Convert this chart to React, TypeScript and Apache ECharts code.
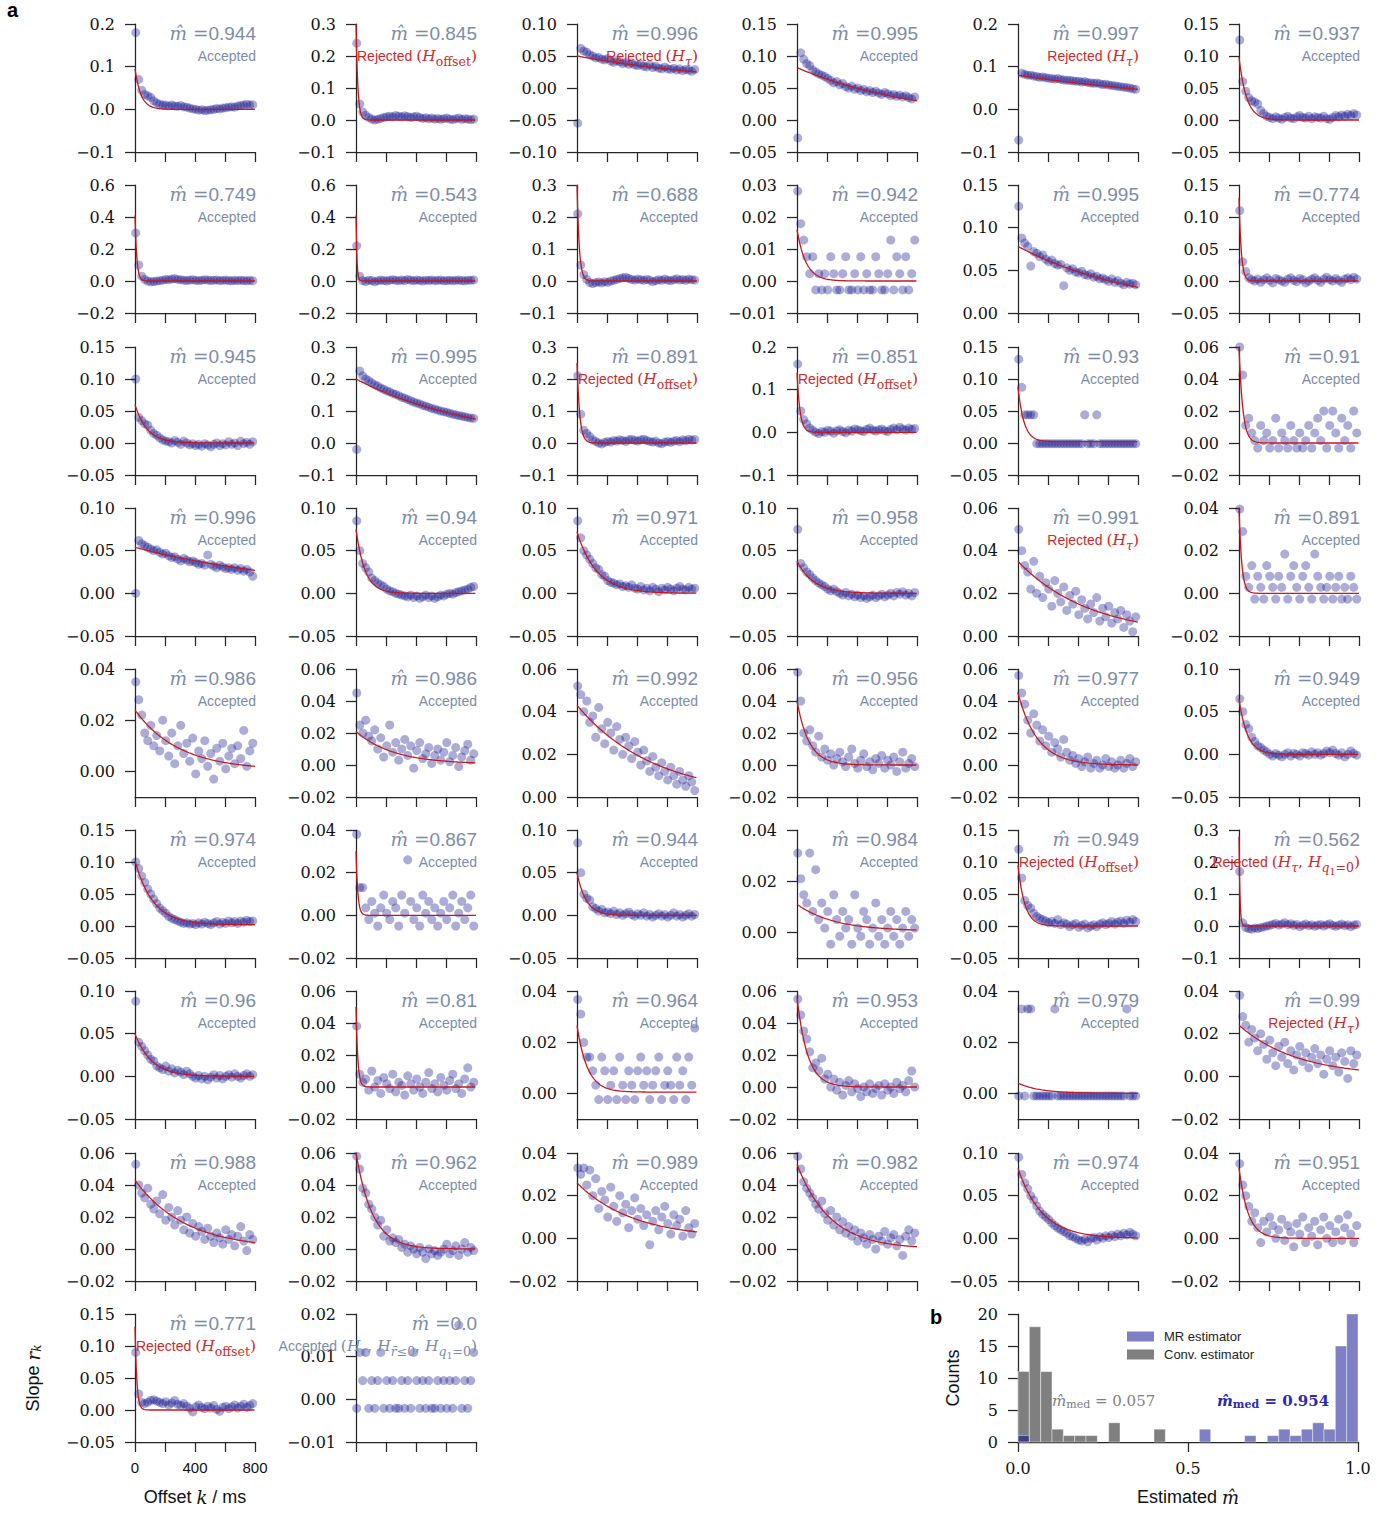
import React, { useEffect, useRef } from 'react';
import * as echarts from 'echarts';

const SERIF = '"DejaVu Serif", serif';
const SANS = '"Liberation Sans", Arial, sans-serif';
const MCOL = '#7d8ca6';
const RED = '#cc2b2b';
const PT = 'rgba(8,8,135,0.42)';
const AX = '#262626';

// sampling offsets k (ms)
const offsetsMs = [5, 25, 45, 65, 85, 105, 125, 145, 165, 185, 205, 225, 245, 265, 285, 305, 325, 345, 365, 385,
  405, 425, 445, 465, 485, 505, 525, 545, 565, 585, 605, 625, 645, 665, 685, 705, 725, 745, 765, 785];

const mHat = ['0.944', '0.845', '0.996', '0.995', '0.997', '0.937',
  '0.749', '0.543', '0.688', '0.942', '0.995', '0.774',
  '0.945', '0.995', '0.891', '0.851', '0.93', '0.91',
  '0.996', '0.94', '0.971', '0.958', '0.991', '0.891',
  '0.986', '0.986', '0.992', '0.956', '0.977', '0.949',
  '0.974', '0.867', '0.944', '0.984', '0.949', '0.562',
  '0.96', '0.81', '0.964', '0.953', '0.979', '0.99',
  '0.988', '0.962', '0.989', '0.982', '0.974', '0.951',
  '0.771', '0.0'];

const verdict = ['A', 'Ro', 'Rt', 'A', 'Rt', 'A',
  'A', 'A', 'A', 'A', 'A', 'A',
  'A', 'A', 'Ro', 'Ro', 'A', 'A',
  'A', 'A', 'A', 'A', 'Rt', 'A',
  'A', 'A', 'A', 'A', 'A', 'A',
  'A', 'A', 'A', 'A', 'Ro', 'Rtq',
  'A', 'A', 'A', 'A', 'A', 'Rt',
  'A', 'A', 'A', 'A', 'A', 'A',
  'Ro', 'Atrq'];

const yMin = [-0.1, -0.1, -0.1, -0.05, -0.1, -0.05,
  -0.2, -0.2, -0.1, -0.01, 0, -0.05,
  -0.05, -0.1, -0.1, -0.1, -0.05, -0.02,
  -0.05, -0.05, -0.05, -0.05, 0, -0.02,
  -0.01, -0.02, 0, -0.02, -0.02, -0.05,
  -0.05, -0.02, -0.05, -0.01, -0.05, -0.1,
  -0.05, -0.02, -0.01, -0.02, -0.01, -0.02,
  -0.02, -0.02, -0.02, -0.02, -0.05, -0.02,
  -0.05, -0.01];
const yMax = [0.2, 0.3, 0.1, 0.15, 0.2, 0.15,
  0.6, 0.6, 0.3, 0.03, 0.15, 0.15,
  0.15, 0.3, 0.3, 0.2, 0.15, 0.06,
  0.1, 0.1, 0.1, 0.1, 0.06, 0.04,
  0.04, 0.06, 0.06, 0.06, 0.06, 0.1,
  0.15, 0.04, 0.1, 0.04, 0.15, 0.3,
  0.1, 0.06, 0.04, 0.06, 0.04, 0.04,
  0.06, 0.06, 0.04, 0.06, 0.1, 0.04,
  0.15, 0.02];
const yStep = [0.1, 0.1, 0.05, 0.05, 0.1, 0.05,
  0.2, 0.2, 0.1, 0.01, 0.05, 0.05,
  0.05, 0.1, 0.1, 0.1, 0.05, 0.02,
  0.05, 0.05, 0.05, 0.05, 0.02, 0.02,
  0.02, 0.02, 0.02, 0.02, 0.02, 0.05,
  0.05, 0.02, 0.05, 0.02, 0.05, 0.1,
  0.05, 0.02, 0.02, 0.02, 0.02, 0.02,
  0.02, 0.02, 0.02, 0.02, 0.05, 0.02,
  0.05, 0.01];

// exponential fit r_k = A exp(-k/tau) + B
const fitAmp = [0.095, 0.30, 0.05, 0.082, 0.08, 0.098,
  0.41, 0.41, 0.30, 0.016, 0.078, 0.13,
  0.06, 0.2, 0.25, 0.14, 0.085, 0.06,
  0.054, 0.075, 0.072, 0.038, 0.035, 0.04,
  0.0235, 0.0205, 0.043, 0.04, 0.045, 0.065,
  0.1, 0.03, 0.05, 0.0105, 0.095, 0.28,
  0.05, 0.05, 0.026, 0.056, 0.004, 0.024,
  0.043, 0.06, 0.026, 0.053, 0.082, 0.033,
  0.13, null];
const fitTau = [40, 12, 1150, 800, 1500, 50,
  12, 6, 15, 60, 840, 15,
  80, 815, 18, 20, 40, 25,
  1150, 60, 130, 110, 476, 18,
  290, 250, 511, 80, 130, 55,
  120, 12, 60, 250, 45, 6,
  110, 12, 70, 70, 150, 385,
  337, 110, 371, 220, 160, 60,
  12, null];
const fitOff = [0, 0, 0, 0, 0, 0,
  0, 0, 0, 0, 0, 0,
  0, 0, 0, 0, 0.002, 0,
  0, 0, 0, 0, 0, 0,
  0.0005, 0.0005, 0, 0, 0, 0,
  0.002, 0, 0, 0.0005, 0, 0,
  0, 0, 0.0005, 0, 0, 0,
  0, 0, 0, 0, 0, 0,
  0, null];

// slopes r_k (in units of 1e-3), one list per panel
const slopesRow0 = [
  [180, 70, 45, 35, 32, 28, 20, 15, 12, 10, 10, 8, 10, 8, 7, 9, 6, 5, 3, 1, 0, -2, -1, -3, -2, -1, 0, 2, 1, 3, 4, 5, 6, 5, 8, 9, 10, 12, 10, 11],
  [240, 50, 25, 15, 8, 3, 0, 2, 5, 8, 10, 12, 10, 14, 12, 10, 13, 11, 8, 10, 12, 8, 5, 7, 4, 6, 3, 5, 2, 4, 6, 3, 1, 4, 6, 2, 4, 3, 1, 3],
  [-55, 62, 58, 56, 52, 50, 47, 48, 45, 44, 46, 42, 40, 43, 41, 38, 40, 37, 39, 36, 35, 37, 34, 33, 36, 32, 34, 31, 30, 33, 30, 29, 31, 28, 30, 27, 29, 28, 26, 29],
  [-28, 105, 95, 88, 85, 78, 75, 72, 70, 68, 65, 62, 58, 60, 55, 57, 52, 50, 53, 48, 50, 46, 48, 44, 46, 43, 45, 42, 40, 43, 41, 38, 40, 37, 39, 36, 38, 35, 33, 36],
  [-72, 85, 82, 80, 80, 78, 77, 75, 76, 74, 73, 72, 71, 72, 70, 69, 68, 68, 67, 66, 66, 64, 65, 63, 62, 61, 62, 60, 58, 59, 57, 56, 55, 54, 53, 52, 51, 50, 48, 47],
  [125, 60, 45, 35, 30, 28, 25, 15, 10, 6, 4, 2, 5, 3, 1, 4, 6, 3, 2, 5, 7, 4, 3, 6, 2, 5, 4, 3, 6, 2, 1, 4, 7, 5, 8, 6, 9, 7, 10, 8],
];
const slopesRow1 = [
  [300, 100, 30, 10, 0, -5, -3, 0, 2, 5, 10, 8, 12, 15, 10, 8, 5, 3, 6, 8, 4, 2, 5, 8, 6, 3, 5, 7, 2, 4, 6, 3, 1, 4, 2, 5, 3, 1, 4, 2],
  [220, 30, 2, -3, 5, 3, -5, 2, 6, 3, 0, 5, 8, 4, 2, 6, 3, 10, 5, 2, 6, 4, 0, 5, 3, 7, 2, 4, 6, 1, 3, 5, 2, 4, 6, 3, 1, 5, 4, 7],
  [210, 50, 20, 5, -5, -8, -5, -3, -6, -2, -4, 0, 2, 5, 8, 10, 12, 8, 5, 3, 6, 4, 2, 5, 3, -2, 1, 4, 2, 6, 3, 1, 4, 7, 3, 5, 2, 6, 4, 3],
  [28.1, 17.9, 12.8, 7.6, 2.3, 7.6, -2.8, 2.3, -2.8, 2.3, -2.8, 7.6, 2.3, -2.8, -2.8, 2.3, 7.6, -2.8, -2.8, 2.3, -2.8, 7.6, -2.8, 2.3, -2.8, -2.8, 7.6, 2.3, -2.8, -2.8, 2.3, 12.8, -2.8, 7.6, 2.3, -2.8, 7.6, -2.8, 2.3, 12.8],
  [125, 88, 82, 78, 55, 72, 70, 66, 68, 63, 60, 62, 58, 56, 57, 32, 53, 50, 52, 48, 47, 49, 45, 44, 46, 42, 43, 40, 41, 39, 37, 40, 36, 38, 35, 33, 36, 34, 35, 33],
  [110, 30, 15, 5, 2, 0, 3, -2, 2, 5, 1, -3, 4, 2, 0, -2, 3, 5, 1, -1, 4, 2, -3, 0, 3, 5, 1, -2, 3, 6, 2, 0, 4, 1, -2, 3, 5, 2, 6, 3],
];
const slopesRow2 = [
  [100, 40, 35, 30, 28, 20, 15, 12, 8, 5, 3, 2, 0, 4, 1, -2, 3, 0, -3, -1, -4, -2, -5, -1, -3, -6, -2, 0, -4, -1, -3, 2, -2, 0, -4, 3, -1, 1, -2, 2],
  [-20, 225, 210, 200, 195, 188, 182, 178, 172, 168, 163, 160, 155, 152, 148, 143, 140, 136, 132, 128, 125, 122, 118, 115, 112, 108, 106, 103, 100, 98, 96, 93, 90, 88, 86, 84, 82, 80, 78, 77],
  [210, 90, 40, 30, 20, 10, 5, 0, -3, 2, 5, 3, 8, 6, 10, 8, 5, 10, 12, 8, 6, 10, 12, 8, 5, 3, 6, 0, -2, 3, 5, 2, 6, 8, 4, 10, 7, 12, 9, 11],
  [160, 50, 30, 20, 10, 5, 0, -3, 2, 0, 5, 3, -2, 4, 6, 2, -1, 5, 3, 8, 6, 4, 2, 7, 10, 5, 3, 6, 8, 4, 2, 7, 10, 6, 12, 8, 5, 10, 7, 9],
  [131, 87, 44, 44, 44, 44, -1, -1, -1, -1, -1, -1, -1, -1, -1, -1, -1, -1, -1, -1, -1, -1, 44, -1, -1, -1, 44, -1, -1, -1, -1, -1, -1, -1, -1, -1, -1, -1, -1, -1],
  [60, 42.5, 11, 15.5, 6.3, 1.5, -3.2, 11, 1.5, 6.3, -3.2, 1.5, 15.5, -3.2, 6.3, 1.5, -3.2, 11, 1.5, -3.2, 6.3, -3.2, 1.5, 11, -3.2, 6.3, 15.5, 1.5, 20, -3.2, 11, 20, 6.3, -3.2, 15.5, 1.5, 11, -3.2, 20, 6.3],
];
const slopesRow3 = [
  [0, 62, 58, 56, 54, 52, 50, 51, 48, 46, 47, 44, 42, 43, 40, 38, 41, 39, 37, 38, 36, 34, 35, 33, 45, 34, 32, 30, 33, 31, 29, 30, 28, 30, 27, 29, 26, 28, 25, 20],
  [85, 50, 35, 30, 25, 18, 15, 12, 10, 8, 5, 3, 2, 0, -1, -2, -3, -4, -2, -5, -3, -6, -4, -2, -5, -3, -6, -4, -2, -3, -1, 0, -1, 1, 2, 3, 4, 5, 7, 8],
  [85, 65, 50, 45, 40, 35, 30, 28, 22, 20, 15, 13, 12, 10, 11, 8, 9, 7, 10, 6, 5, 8, 4, 6, 3, 7, 5, 2, 6, 4, 7, 5, 3, 6, 8, 5, 4, 7, 5, 6],
  [75, 35, 30, 25, 22, 18, 15, 12, 10, 8, 5, 3, 5, 2, 0, -2, 1, -3, -1, -4, -2, -5, -3, -6, -4, -2, -5, -3, -1, -4, -2, 0, -3, 1, -1, 2, -2, 0, -3, 1],
  [50, 40, 33, 30, 22, 35, 20, 28, 18, 25, 22, 14, 26, 20, 16, 23, 12, 19, 15, 21, 10, 17, 13, 8, 15, 11, 18, 7, 13, 9, 14, 6, 11, 8, 12, 4, 10, 7, 2, 9],
  [39.5, 29, 8, 2.8, 13, -2.7, 8, 2.8, -2.7, 13, 8, 2.8, -2.7, 8, 2.8, 18.4, -2.7, 8, 13, 2.8, -2.7, 8, 13, 2.8, -2.7, 18.4, 8, 2.8, -2.7, 2.8, 8, -2.7, 2.8, 8, -2.7, 2.8, -2.7, 8, 2.8, -2.7],
];
const slopesRow4 = [
  [35, 28, 22, 15, 12, 18, 10, 14, 8, 20, 12, 6, 15, 3, 10, 18, 7, 11, 4, 13, -1, 8, 5, 12, 2, 7, -3, 9, 4, 11, 1, 6, 9, 3, 10, 5, 16, 2, 8, 11],
  [45, 25, 20, 28, 18, 15, 22, 10, 17, 5, 12, 25, 8, 14, 3, 10, 16, 6, 12, -2, 9, 14, 4, 7, 11, 1, 6, 10, 3, 8, 14, 2, 6, 11, -1, 5, 9, 13, 3, 7],
  [52, 48, 40, 45, 35, 38, 28, 42, 32, 25, 35, 30, 22, 33, 27, 20, 28, 24, 18, 26, 21, 15, 22, 17, 12, 19, 14, 10, 16, 12, 8, 14, 10, 6, 12, 8, 5, 10, 7, 3],
  [58, 40, 20, 15, 22, 12, 8, 18, 5, 10, 3, 7, 0, 4, 8, 2, -1, 5, 10, 1, -2, 3, 7, -1, 2, -3, 4, 1, 6, -2, 3, 0, 5, -4, 2, 8, -2, 1, 4, -1],
  [56, 45, 38, 28, 20, 32, 25, 15, 22, 12, 18, 8, 14, 10, 5, 16, 8, 3, 6, 1, 4, -1, 2, 5, -2, 1, 3, -2, 0, 4, -1, 2, -2, 0, 3, -2, 1, 4, -1, 2],
  [65, 50, 35, 30, 20, 15, 10, 8, 5, 3, 0, -2, 1, -1, -3, 0, 2, -2, 1, 0, -2, 2, 1, -1, 3, 0, 2, -1, 1, 4, 2, 5, 1, -1, 2, -3, 0, 4, 1, -1],
];
const slopesRow5 = [
  [100, 90, 78, 68, 58, 50, 42, 35, 28, 24, 20, 15, 12, 10, 8, 6, 4, 5, 3, 4, 2, 5, 3, 6, 4, 2, 5, 7, 3, 6, 4, 8, 5, 7, 4, 8, 6, 9, 7, 8],
  [38, 13, 13, 3.5, -2, 6.5, 1, -5, 3.5, 9.5, 1, -2, 6.5, 3.5, -5, 9.5, 1, 26, 6.5, -2, 3.5, -5, 9.5, 1, 6.5, -2, 3.5, -5, 1, 6.5, -2, 3.5, 9.5, -5, 1, 6.5, -2, 3.5, 9.5, -5],
  [85, 50, 25, 20, 18, 10, 8, 5, 7, 3, 4, 2, 5, 1, 3, 0, 2, 4, 1, -1, 2, 0, 3, -1, 1, -2, 0, 2, -1, 1, -2, 0, 3, -1, 1, -2, 0, 2, -1, 1],
  [31, 21, 14.7, 11.5, 31, 8.2, 24.5, 5, 11.5, 1.7, 8.2, -4.6, 14.7, 5, -1.5, 8.2, 1.7, 5, -4.6, 14.7, 1.7, -1.5, 8.2, 5, -4.6, 1.7, 11.5, -1.5, 5, -4.6, 1.7, 8.2, -1.5, 5, -4.6, 1.7, 8.2, -1.5, 5, 1.7],
  [120, 75, 40, 32, 28, 20, 15, 12, 10, 8, 5, 7, 4, 10, 2, 5, 3, -1, 2, 4, -2, 1, 3, -3, 0, 2, -1, 3, 5, 2, 4, 7, 3, 6, 8, 4, 9, 6, 10, 7],
  [170, 10, -5, -8, -10, -6, -8, -5, -3, 0, 2, 5, 8, 3, 6, 10, 4, 7, 2, 5, -2, 3, 6, 1, 4, -1, 3, 5, 0, 4, 7, 2, -1, 3, 6, 1, 4, -2, 3, 5],
];
const slopesRow6 = [
  [88, 40, 35, 30, 25, 20, 18, 12, 10, 8, 12, 6, 9, 4, 7, 5, 2, 6, 3, 0, -2, 1, -3, 0, -4, -1, 2, -2, 1, -3, 0, 2, -1, 3, 0, -2, 1, 3, 0, 2],
  [38, 8, 3, 5, -2, 10, 0, 4, -4, 6, 2, -1, 8, -3, 3, 1, -5, 7, 2, -2, 5, 0, -4, 3, 9, -1, 2, -3, 6, 1, -2, 4, 8, -1, 2, -4, 5, 12, 0, 3],
  [36.7, 31, 19.9, 14.2, 14.2, 8.8, 3.2, -2.4, 14.2, 8.8, -2.4, 3.2, 8.8, -2.4, 14.2, 3.2, -2.4, 8.8, 3.2, -2.4, 8.8, 14.2, 3.2, 8.8, -2.4, 3.2, 8.8, 14.2, -2.4, 3.2, 8.8, 3.2, -2.4, 14.2, 3.2, 8.8, -2.4, 14.2, 3.2, 25.5],
  [55, 45, 35, 30, 22, 12, 15, 10, 18, 5, 8, 0, 5, -2, 3, -5, 1, 4, -3, 2, -1, -6, 0, -3, 2, -4, -1, 1, -5, 2, -2, 0, -4, 3, -1, 1, -3, 4, 10, 0],
  [-1, 33, -1, 33, 33, -1, -1, -1, -1, -1, -1, -1, 33, -1, -1, -1, -1, -1, -1, -1, -1, -1, -1, -1, -1, -1, -1, -1, -1, -1, -1, -1, -1, -1, -1, -1, 33, -1, -1, -1],
  [38, 28, 24, 16, 22, 18, 12, 20, 15, 8, 17, 11, 5, 14, 9, 16, 6, 12, 3, 10, 14, 7, 11, 4, 9, 13, 6, 10, 1, 8, 12, 5, 9, 2, 11, 7, -1, 12, 6, 10],
];
const slopesRow7 = [
  [53, 40, 35, 32, 38, 28, 25, 30, 22, 34, 18, 26, 20, 15, 24, 18, 12, 20, 10, 16, 8, 14, 11, 6, 13, 8, 4, 10, 7, 3, 12, 6, 9, 2, 8, 14, 5, -1, 9, 6],
  [58, 50, 38, 35, 28, 25, 20, 15, 18, 8, 12, 5, 7, 4, 6, 1, 3, -2, 2, 0, -3, 1, -2, -6, 0, -3, -1, -4, -2, 0, 3, -3, -1, 2, -4, 0, 4, -2, 1, -1],
  [33, 30, 33, 25, 32, 20, 28, 14, 22, 18, 10, 24, 15, 8, 20, 12, 16, 5, 13, 19, 9, 14, 6, 11, -3, 8, 13, 4, 10, 15, 7, 2, 11, 6, 9, 1, 13, 5, 2, 7],
  [58, 50, 42, 38, 35, 32, 28, 25, 30, 22, 18, 24, 15, 20, 12, 17, 10, 14, 8, 12, 5, 10, 7, 3, 9, 6, 0, 8, 5, 11, 3, 7, 9, 2, 6, -4, 8, 12, 5, 10],
  [95, 75, 65, 58, 50, 45, 38, 32, 28, 25, 22, 18, 15, 12, 10, 8, 6, 3, 2, 0, -2, -3, -1, -4, 0, 1, -2, 2, 0, 3, 1, 4, 2, 5, 3, 6, 4, 7, 5, 3],
  [35, 25, 20, 15, 8, 12, 5, -2, 8, 3, 10, 6, 0, 4, 9, -1, 6, 3, -4, 7, 2, 10, -2, 5, 1, 8, -3, 4, 10, 0, 6, -2, 3, 9, -1, 5, 11, 2, -2, 6],
];
const slopesRow8 = [
  [90, 25, 12, 10, 12, 15, 16, 14, 12, 10, 13, 8, 11, 15, 9, 7, 10, 6, 3, -3, 5, 8, 4, 2, 6, 3, 7, 1, -2, 4, 6, 2, 5, 8, 3, 6, 9, 4, 7, 10],
  [-2.1, 11, 4.4, 11, -2.1, 4.4, -2.1, 4.4, 11, -2.1, 4.4, -2.1, 4.4, -2.1, -2.1, 4.4, -2.1, 4.4, -2.1, 11, 4.4, -2.1, 4.4, -2.1, 4.4, -2.1, -2.1, 4.4, -2.1, 4.4, -2.1, 4.4, -2.1, 4.4, 17.4, -2.1, 4.4, -2.1, 4.4, 11],
];

// histogram (panel b): 30 bins over [0, 1]
const mrCounts = [1, 0, 0, 0, 0, 0, 0, 0, 0, 0, 0, 0, 0, 0, 0, 0, 2, 0, 0, 0, 1, 0, 1, 2, 1, 2, 3, 2, 15, 20];
const convCounts = [11, 18, 11, 2, 1, 1, 1, 0, 3, 0, 0, 0, 2, 0, 0, 0, 0, 0, 0, 0, 0, 0, 0, 0, 0, 0, 0, 0, 0, 0];
const histXTicks = [0, 0.5, 1];
const histYTicks = [0, 5, 10, 15, 20];
const medians = ['0.057', '0.954'];
const offsetTicks = [0, 200, 400, 600, 800];
const offsetLabels = [0, 400, 800];

// layout
const colX = [135, 356, 577, 797, 1018, 1239];
const rowY = [24, 185, 347, 508, 669, 830, 991, 1153, 1314];
const PW = 120;
const PH = 128;

function fmt(v: number, d: number) {
  const s = Math.abs(v) < 1e-9 ? (0).toFixed(d) : v.toFixed(d);
  return s.replace('-', '\u2212');
}
function makeTicks(mn: number, mx: number, st: number) {
  const out: number[] = [];
  const a = Math.ceil(mn / st - 1e-6);
  const b = Math.floor(mx / st + 1e-6);
  for (let j = a; j <= b; j++) out.push(+(j * st).toFixed(5));
  return out;
}

function verdictRich(col: string) {
  const base = { fill: col, verticalAlign: 'top' as const };
  return {
    t: { ...base, fontFamily: SANS, fontSize: 14, padding: [1, 0, 0, 0] },
    p: { ...base, fontFamily: SERIF, fontSize: 15.5 },
    h: { ...base, fontFamily: SERIF, fontStyle: 'italic', fontSize: 15.5 },
    s: { ...base, fontFamily: SERIF, fontSize: 12.5, padding: [7, 0, 0, 0] },
    si: { ...base, fontFamily: SERIF, fontStyle: 'italic', fontSize: 12.5, padding: [7, 0, 0, 0] },
    ss: { ...base, fontFamily: SERIF, fontSize: 9.5, padding: [12, 0, 0, 0] },
  };
}
const verdictText: Record<string, string> = {
  A: '{t|Accepted}',
  Ro: '{t|Rejected }{p|(}{h|H}{s|offset}{p|)}',
  Rt: '{t|Rejected }{p|(}{h|H}{si|\u03c4}{p|)}',
  Rtq: '{t|Rejected }{p|(}{h|H}{si|\u03c4}{p|, }{h|H}{si|q}{ss|1}{s|=0}{p|)}',
  Atrq: '{t|Accepted }{p|(}{h|H}{si|\u03c4}{p|, }{h|H}{si|r\u0304}{s|\u22640}{p|, }{h|H}{si|q}{ss|1}{s|=0}{p|)}',
};

function buildOption() {
  const grid: any[] = [];
  const xAxis: any[] = [];
  const yAxis: any[] = [];
  const series: any[] = [];
  const graphic: any[] = [];
  const slopes = [...slopesRow0, ...slopesRow1, ...slopesRow2, ...slopesRow3, ...slopesRow4,
    ...slopesRow5, ...slopesRow6, ...slopesRow7, ...slopesRow8];
  const fitK: number[] = [];
  for (let k = 0; k <= 800; k += 4) fitK.push(k);

  const mRich = {
    m: { fill: MCOL, fontFamily: SERIF, fontStyle: 'italic', fontSize: 18.5 },
    e: { fill: MCOL, fontFamily: SERIF, fontSize: 18.5 },
    n: { fill: MCOL, fontFamily: SANS, fontSize: 19 },
  };
  const redRich = verdictRich(RED);
  const grayRich = verdictRich(MCOL);

  for (let i = 0; i < mHat.length; i++) {
    const r = Math.floor(i / 6);
    const c = i % 6;
    const left = colX[c];
    const top = rowY[r];
    const corner = i === 48;
    grid.push({ left, top, width: PW, height: PH });
    xAxis.push({
      gridIndex: i, type: 'value', min: 0, max: 800,
      axisLine: { show: true, onZero: false, lineStyle: { color: AX, width: 1.25 } },
      axisTick: { show: true, length: 10, customValues: offsetTicks, lineStyle: { color: AX, width: 1.25 } },
      axisLabel: { show: corner, customValues: offsetLabels, fontFamily: SANS, fontSize: 15, color: '#111', margin: 18 },
      splitLine: { show: false },
      name: corner ? '{s|Offset }{k|k}{s| / ms}' : '',
      nameLocation: 'middle', nameGap: 46,
      nameTextStyle: {
        rich: {
          s: { fontFamily: SANS, fontSize: 18, color: '#111' },
          k: { fontFamily: SERIF, fontStyle: 'italic', fontSize: 18, color: '#111' },
        },
      },
    });
    const ticks = makeTicks(yMin[i], yMax[i], yStep[i]);
    const dec = yStep[i] >= 0.1 ? 1 : 2;
    yAxis.push({
      gridIndex: i, type: 'value', min: yMin[i], max: yMax[i],
      axisLine: { show: true, onZero: false, lineStyle: { color: AX, width: 1.25 } },
      axisTick: { show: true, length: 10, customValues: ticks, lineStyle: { color: AX, width: 1.25 } },
      axisLabel: {
        customValues: ticks, fontFamily: SERIF, fontSize: 16, color: '#111', margin: 20,
        formatter: (v: number) => fmt(v, dec),
      },
      splitLine: { show: false },
      name: corner ? '{s|Slope }{r|r}{k|k}' : '',
      nameLocation: 'middle', nameRotate: 90, nameGap: 92,
      nameTextStyle: {
        rich: {
          s: { fontFamily: SANS, fontSize: 18, color: '#111' },
          r: { fontFamily: SERIF, fontStyle: 'italic', fontSize: 18, color: '#111' },
          k: { fontFamily: SERIF, fontStyle: 'italic', fontSize: 12, color: '#111', padding: [8, 0, 0, 0] },
        },
      },
    });
    series.push({
      type: 'scatter', xAxisIndex: i, yAxisIndex: i, silent: true, z: 2,
      symbolSize: 9, itemStyle: { color: PT },
      data: slopes[i].map((v, j) => [offsetsMs[j], v / 1000]),
    });
    const A = fitAmp[i];
    if (A !== null) {
      const tau = fitTau[i] as number;
      const B = fitOff[i] as number;
      series.push({
        type: 'line', xAxisIndex: i, yAxisIndex: i, silent: true, z: 3,
        showSymbol: false, symbol: 'none', clip: true,
        lineStyle: { color: '#c8161d', width: 1.3 },
        data: fitK.map((k) => [k, A * Math.exp(-k / tau) + B]),
      });
    }
    const right = left + PW + 1;
    graphic.push({
      type: 'text', x: right, y: top + 9, z: 20, silent: true,
      style: {
        text: `{m|m\u0302 }{e|=}{n|${mHat[i]}}`, rich: mRich,
        align: 'right', verticalAlign: 'middle', textAlign: 'right', textVerticalAlign: 'middle',
      },
    });
    const v = verdict[i];
    graphic.push({
      type: 'text', x: right, y: top + 24, z: 20, silent: true,
      style: {
        text: verdictText[v], rich: v.startsWith('R') ? redRich : grayRich,
        align: 'right', verticalAlign: 'top', textAlign: 'right', textVerticalAlign: 'top',
      },
    });
  }

  // histogram panel b
  const H = mHat.length;
  grid.push({ left: 1018, top: 1314, width: 340, height: 128 });
  xAxis.push({
    gridIndex: H, type: 'value', min: 0, max: 1,
    axisLine: { show: true, onZero: false, lineStyle: { color: AX, width: 1.25 } },
    axisTick: { show: true, length: 10, customValues: histXTicks, lineStyle: { color: AX, width: 1.25 } },
    axisLabel: { customValues: histXTicks, fontFamily: SERIF, fontSize: 16, color: '#111', margin: 18, formatter: (v: number) => fmt(v, 1) },
    splitLine: { show: false },
    name: '{s|Estimated }{m|m\u0302}', nameLocation: 'middle', nameGap: 46,
    nameTextStyle: {
      rich: {
        s: { fontFamily: SANS, fontSize: 18, color: '#111' },
        m: { fontFamily: SERIF, fontStyle: 'italic', fontSize: 18, color: '#111' },
      },
    },
  });
  yAxis.push({
    gridIndex: H, type: 'value', min: 0, max: 20,
    axisLine: { show: true, onZero: false, lineStyle: { color: AX, width: 1.25 } },
    axisTick: { show: true, length: 10, customValues: histYTicks, lineStyle: { color: AX, width: 1.25 } },
    axisLabel: { customValues: histYTicks, fontFamily: SERIF, fontSize: 16, color: '#111', margin: 20 },
    splitLine: { show: false },
    name: 'Counts', nameLocation: 'middle', nameRotate: 90, nameGap: 56,
    nameTextStyle: { fontFamily: SANS, fontSize: 18, color: '#111' },
  });
  const binW = 1 / convCounts.length;
  const histSeries = (name: string, counts: number[], color: string, z: number) => ({
    type: 'custom', name, xAxisIndex: H, yAxisIndex: H, z, silent: true,
    itemStyle: { color },
    data: counts.map((cnt, b) => [b, cnt]).filter((d) => d[1] > 0),
    renderItem: (_p: any, api: any) => {
      const b = api.value(0);
      const cnt = api.value(1);
      const tl = api.coord([b * binW, cnt]);
      const br = api.coord([(b + 1) * binW, 0]);
      return {
        type: 'rect',
        shape: { x: tl[0], y: tl[1], width: br[0] - tl[0], height: br[1] - tl[1] },
        style: { fill: color, stroke: 'rgba(255,255,255,0.7)', lineWidth: 0.6 },
      };
    },
  });
  series.push(histSeries('Conv. estimator', convCounts, '#7f7f7f', 2));
  series.push(histSeries('MR estimator', mrCounts, 'rgba(0,0,139,0.5)', 3));

  const medRich = (col: string, bold: boolean) => ({
    m: { fill: col, fontFamily: SERIF, fontStyle: 'italic', fontSize: 15, fontWeight: bold ? 'bold' : 'normal', verticalAlign: 'top' },
    s: { fill: col, fontFamily: SERIF, fontSize: 11, fontWeight: bold ? 'bold' : 'normal', verticalAlign: 'top', padding: [6, 0, 0, 0] },
    e: { fill: col, fontFamily: SERIF, fontSize: 15, fontWeight: bold ? 'bold' : 'normal', verticalAlign: 'top' },
  });
  graphic.push({
    type: 'text', x: 1052, y: 1393, z: 20, silent: true,
    style: { text: `{m|m\u0302}{s|med}{e| = ${medians[0]}}`, rich: medRich('#808080', false), align: 'left', verticalAlign: 'top' },
  });
  graphic.push({
    type: 'text', x: 1217, y: 1393, z: 20, silent: true,
    style: { text: `{m|m\u0302}{s|med}{e| = ${medians[1]}}`, rich: medRich('#2a2ab0', true), align: 'left', verticalAlign: 'top' },
  });
  graphic.push({
    type: 'text', x: 7, y: 0, z: 20, silent: true,
    style: { text: 'a', fontFamily: SANS, fontWeight: 'bold', fontSize: 20, fill: '#000', align: 'left', verticalAlign: 'top' },
  });
  graphic.push({
    type: 'text', x: 930, y: 1307, z: 20, silent: true,
    style: { text: 'b', fontFamily: SANS, fontWeight: 'bold', fontSize: 20, fill: '#000', align: 'left', verticalAlign: 'top' },
  });

  return {
    animation: false,
    backgroundColor: '#ffffff',
    grid, xAxis, yAxis, series, graphic,
    legend: {
      data: ['MR estimator', 'Conv. estimator'],
      orient: 'vertical', left: 1122, top: 1325, itemWidth: 27, itemHeight: 10, itemGap: 5,
      icon: 'rect', selectedMode: false,
      textStyle: { fontFamily: SANS, fontSize: 13, color: '#222', padding: [0, 0, 0, 5] },
    },
  };
}

export default function App() {
  const ref = useRef<HTMLDivElement>(null);
  useEffect(() => {
    if (!ref.current) return;
    const chart = echarts.init(ref.current, null, { renderer: 'svg' });
    chart.setOption(buildOption() as any);
    return () => chart.dispose();
  }, []);
  return (
    <div
      ref={ref}
      style={{ position: 'absolute', left: 0, top: 0, width: 1392, height: 1513, background: '#fff' }}
    />
  );
}
